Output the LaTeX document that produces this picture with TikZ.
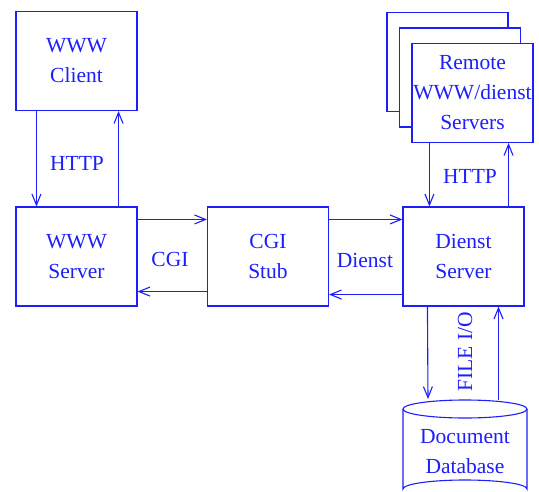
\documentclass[tikz,border=0pt]{standalone}
\usepackage{fontspec}
\setmainfont{Liberation Serif}
\usetikzlibrary{arrows.meta}
\definecolor{dblue}{RGB}{30,30,250}
\tikzset{
	box/.style={draw=dblue, text=dblue, line width=1.1pt, fill=white, text width=121pt, minimum height=99pt, align=center, inner sep=0pt},
	flow/.style={draw=dblue, line width=1.1pt, -{Straight Barb[length=11pt,width=9pt]}},
	lbl/.style={text=dblue, align=center},
}
\begin{document}
\begin{tikzpicture}[x=1pt, y=-1pt, font=\fontsize{21.5}{30}\selectfont]
	\useasboundingbox (0,0) rectangle (539,491);

	\node[box] (client) at (76.5,61) {WWW\\Client};
	\node[box] (server) at (76.5,256.5) {WWW\\Server};
	\node[box] (stub) at (268,256.5) {CGI\\Stub};
	\node[box] (dienst) at (463.5,256.5) {Dienst\\Server};

	\foreach \dx/\dy in {-25/-31, -12.5/-15.5}
		\node[box] at (472.5+\dx, 93+\dy) {};
	\node[box] (remote) at (472.5,93) {Remote\\WWW/dienst\\Servers};

	% database
	\draw[dblue, line width=1.1pt] (465,409) ellipse[x radius=62pt, y radius=9pt];
	\draw[dblue, line width=1.1pt] (403,409) -- (403,489) arc[start angle=180, end angle=0, x radius=62pt, y radius=9pt] -- (527,409);
	\node[lbl] (db) at (465,452) {Document\\Database};
	\coordinate (dbin) at (428,399);
	\coordinate (dbout) at (498.5,400);

	\draw[flow] ([xshift=21pt]client.south west) -- ([xshift=21pt]server.north west);
	\draw[flow] ([xshift=-19pt]server.north east) -- ([xshift=-19pt]client.south east);
	\node[lbl] (http1) at (77,163) {HTTP};

	\draw[flow] ([yshift=-13pt]server.north east) -- ([yshift=-13pt]stub.north west);
	\draw[flow] ([yshift=15pt]stub.south west) -- ([yshift=15pt]server.south east);
	\node[lbl] (cgi) at (170,259) {CGI};

	\draw[flow] ([yshift=-13pt]stub.north east) -- ([yshift=-13pt]dienst.north west);
	\draw[flow] ([yshift=12pt]dienst.south west) -- ([yshift=12pt]stub.south east);
	\node[lbl] (dnst) at (365,260) {Dienst};

	\draw[flow] ([xshift=18pt]remote.south west) -- ([xshift=18pt]remote.south west |- dienst.north);
	\draw[flow] ([xshift=-16pt]dienst.north east) -- ([xshift=-16pt]dienst.north east |- remote.south);
	\node[lbl] (http2) at (470,176) {HTTP};

	\draw[flow] ([xshift=25pt]dienst.south west) -- (dbin);
	\draw[flow] (dbout) -- (dbout |- dienst.south);
	\node[lbl, rotate=90] (fileio) at (465,352) {FILE I/O};
\end{tikzpicture}
\end{document}
